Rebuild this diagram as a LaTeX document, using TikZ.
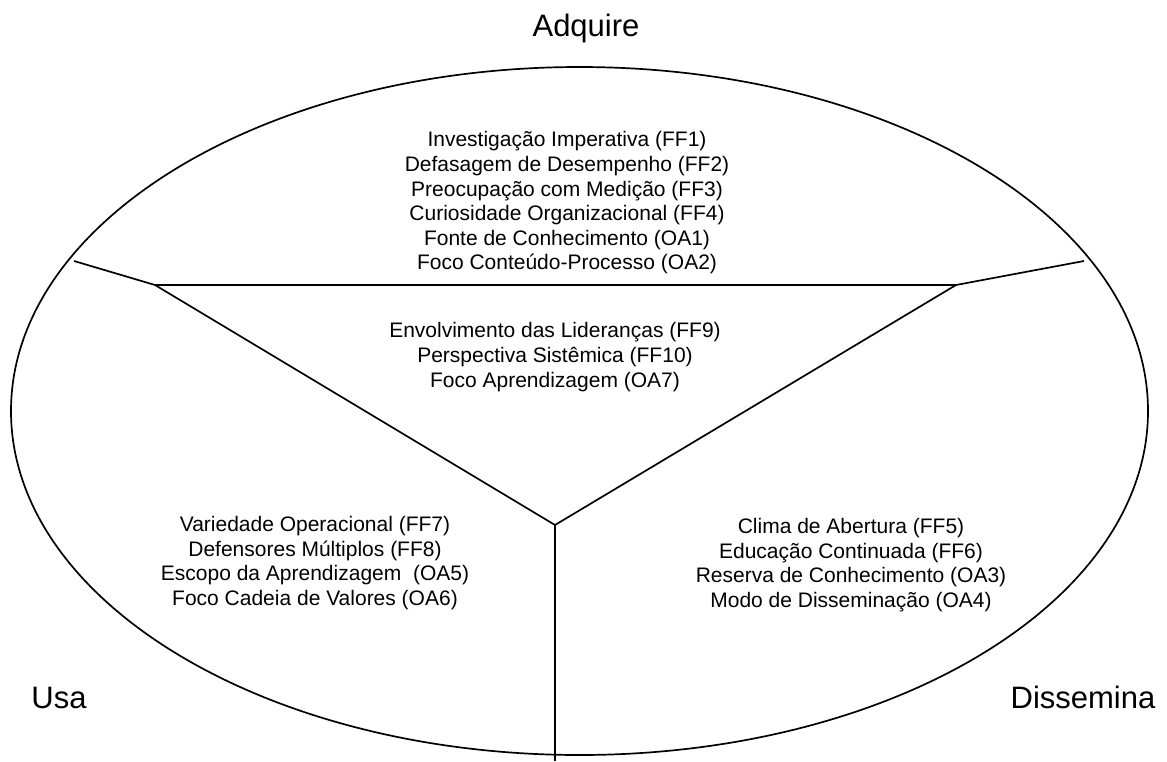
\documentclass[tikz,border=0pt]{standalone}
\usepackage{fontspec}
\setmainfont{Liberation Sans}
\begin{document}
\begin{tikzpicture}[x=1pt,y=-1pt,
  edge/.style={line width=1.7pt},
  body/.style={align=center,font=\fontsize{21}{24.6}\selectfont,inner sep=0pt},
  phase/.style={font=\fontsize{31}{36}\selectfont,anchor=base,inner sep=0pt}]
\useasboundingbox (0,0) rectangle (1167,761);

% outer ellipse
\draw[edge] (579.5,411) ellipse [x radius=568.5pt, y radius=344pt];

% dividing lines: triangle with three spokes
\coordinate (lt) at (74,261);
\coordinate (jl) at (155,285);
\coordinate (jr) at (956,285);
\coordinate (rt) at (1084,261);
\coordinate (jc) at (555,525);
\coordinate (bt) at (555,761);
\draw[edge] (lt) -- (jl) -- (jr) -- (rt);
\draw[edge] (jl) -- (jc) -- (jr);
\draw[edge] (jc) -- (bt);

% phase labels
\node[phase] (adq) at (586,36) {Adquire};
\node[phase] (usa) at (59,708) {Usa};
\node[phase] (dis) at (1083,708) {Dissemina};

% factor lists
\node[body] (top) at (567,203) {Investigação Imperativa (FF1)\\
Defasagem de Desempenho (FF2)\\
Preocupação com Medição (FF3)\\
Curiosidade Organizacional (FF4)\\
Fonte de Conhecimento (OA1)\\
Foco Conteúdo-Processo (OA2)};

\node[body] (mid) at (555,357) {Envolvimento das Lideranças (FF9)\\
Perspectiva Sistêmica (FF10)\\
Foco Aprendizagem (OA7)};

\node[body] (left) at (315,563) {Variedade Operacional (FF7)\\
Defensores Múltiplos (FF8)\\
Escopo da Aprendizagem \ (OA5)\\
Foco Cadeia de Valores (OA6)};

\node[body] (right) at (851,565) {Clima de Abertura (FF5)\\
Educação Continuada (FF6)\\
Reserva de Conhecimento (OA3)\\
Modo de Disseminação (OA4)};
\end{tikzpicture}
\end{document}
